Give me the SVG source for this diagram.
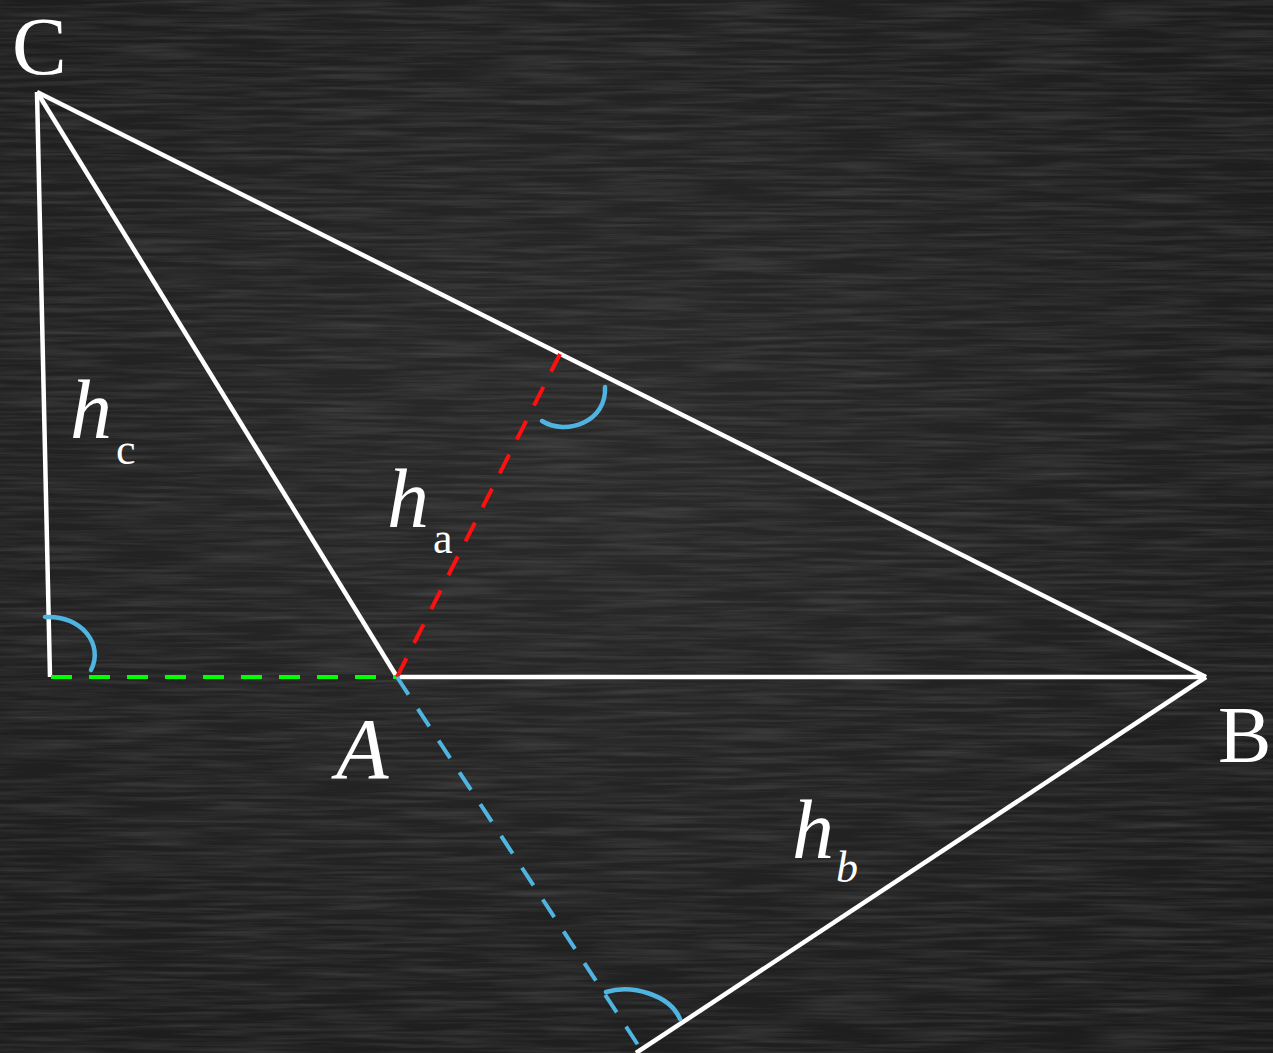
<svg xmlns="http://www.w3.org/2000/svg" width="1273" height="1053" viewBox="0 0 1273 1053">
<style>
.side{stroke:#ffffff;stroke-width:4.5;fill:none;stroke-linecap:butt}
.dash{stroke-width:4;fill:none;stroke-dasharray:21 17}
.arc{stroke:#4fb4e0;stroke-width:4.5;fill:none;stroke-linecap:round}
.lbl{fill:#ffffff;font-family:"Liberation Serif","DejaVu Serif",serif}
.it{font-style:italic}
.up{font-style:normal}
</style>
<defs>
<filter id="chalk" x="0" y="0" width="100%" height="100%">
<feTurbulence type="fractalNoise" baseFrequency="0.01 0.25" numOctaves="3" seed="4" result="n"/>
<feColorMatrix type="matrix" values="0 0 0 0 1  0 0 0 0 1  0 0 0 0 1  0 0 0 0.22 -0.08"/>
</filter>
<radialGradient id="bg" cx="0.45" cy="0.45" r="0.8">
<stop offset="0" stop-color="#2a2a2a"/>
<stop offset="1" stop-color="#1a1a1a"/>
</radialGradient>
</defs>
<rect width="1273" height="1053" fill="url(#bg)"/>
<rect width="1273" height="1053" filter="url(#chalk)"/>
<g id="connectors">
<line class="side" x1="37" y1="92" x2="1206" y2="677"/>
<line class="side" x1="37" y1="92" x2="397" y2="677"/>
<line class="side" x1="37" y1="92" x2="50" y2="677"/>
<line class="side" x1="397" y1="677" x2="1206" y2="677"/>
<line class="side" x1="1206" y1="677" x2="636" y2="1053"/>
<line class="dash" stroke="#00ff00" x1="51" y1="677" x2="397" y2="677" stroke-dasharray="2 17 21 17 21 17 21 17 21 17 21 17 21 17 21 17 21 17 21 17"/>
<line class="dash" stroke="#ff1010" x1="397" y1="677" x2="560" y2="354"/>
<line class="dash" stroke="#4fb4e0" x1="397" y1="677" x2="640" y2="1048"/>
</g>
<g id="angle-a"><path class="arc" d="M 542 421 C 566 436 607 422 605 387"/></g>
<g id="angle-c"><path class="arc" d="M 45 617 C 82 615 104 645 91 670"/></g>
<g id="angle-b"><path class="arc" d="M 606 992 C 632 984 670 995 680 1019"/></g>
<g id="label-C"><text class="lbl" x="12" y="74" font-size="82">C</text></g>
<g id="label-A"><text class="lbl it" x="336" y="778" font-size="86">A</text></g>
<g id="label-B"><text class="lbl" x="1218" y="762" font-size="80">B</text></g>
<g id="label-hc"><text class="lbl it" x="70" y="438" font-size="84">h<tspan class="up" font-size="44" dy="26" dx="4">c</tspan></text></g>
<g id="label-ha"><text class="lbl it" x="387" y="527" font-size="84">h<tspan class="up" font-size="44" dy="26" dx="4">a</tspan></text></g>
<g id="label-hb"><text class="lbl it" x="792" y="858" font-size="84">h<tspan font-size="44" dy="24" dx="2">b</tspan></text></g>
</svg>
